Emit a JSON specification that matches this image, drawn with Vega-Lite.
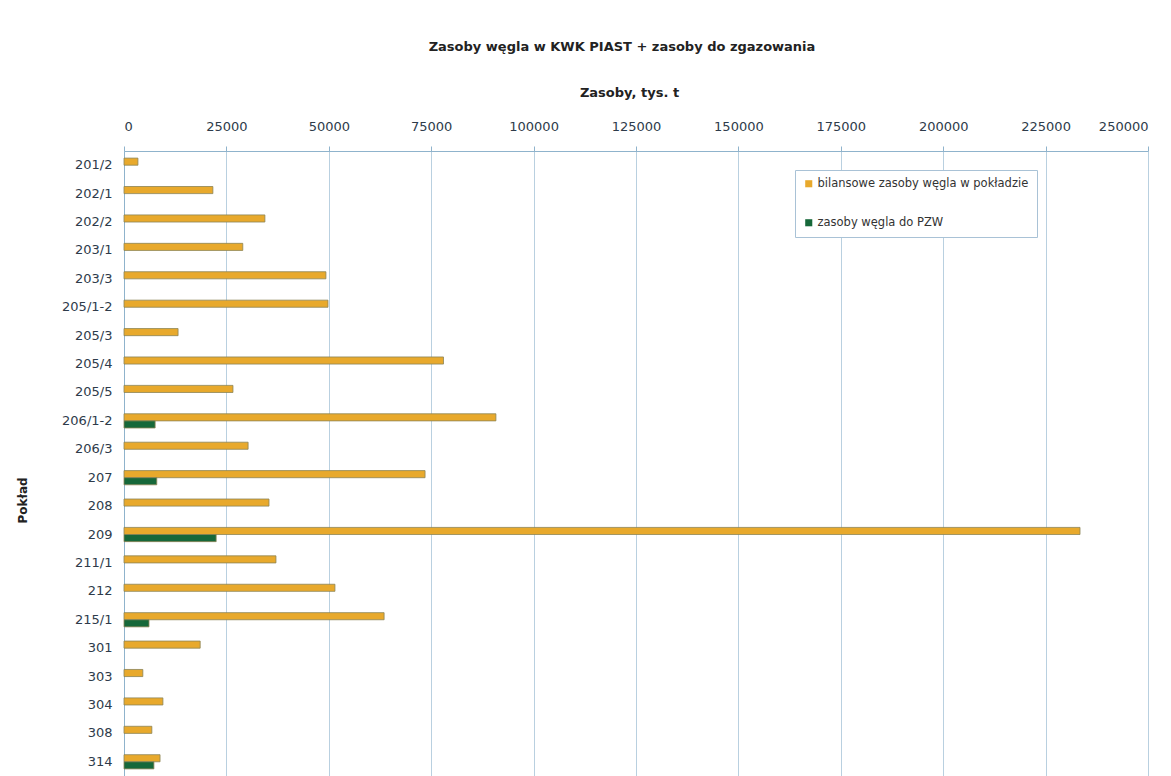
{
  "$schema": "https://vega.github.io/schema/vega-lite/v6.json",
  "autosize": {"type": "none"},
  "padding": {"left": 124, "top": 151, "right": 23, "bottom": 0},
  "width": 1024,
  "height": 625,
  "background": "white",
  "title": {
    "text": "Zasoby węgla w KWK PIAST + zasoby do zgazowania",
    "font": "DejaVu Sans",
    "fontSize": 13,
    "fontWeight": "bold",
    "color": "#222222",
    "anchor": "middle",
    "dx": -14,
    "offset": 32
  },
  "data": {
    "values": [
      {"poklad": "201/2", "seria": "bilansowe zasoby węgla w pokładzie", "zasoby": 3400},
      {"poklad": "202/1", "seria": "bilansowe zasoby węgla w pokładzie", "zasoby": 21700},
      {"poklad": "202/2", "seria": "bilansowe zasoby węgla w pokładzie", "zasoby": 34400},
      {"poklad": "203/1", "seria": "bilansowe zasoby węgla w pokładzie", "zasoby": 29000},
      {"poklad": "203/3", "seria": "bilansowe zasoby węgla w pokładzie", "zasoby": 49300},
      {"poklad": "205/1-2", "seria": "bilansowe zasoby węgla w pokładzie", "zasoby": 49800},
      {"poklad": "205/3", "seria": "bilansowe zasoby węgla w pokładzie", "zasoby": 13200},
      {"poklad": "205/4", "seria": "bilansowe zasoby węgla w pokładzie", "zasoby": 78000},
      {"poklad": "205/5", "seria": "bilansowe zasoby węgla w pokładzie", "zasoby": 26600},
      {"poklad": "206/1-2", "seria": "bilansowe zasoby węgla w pokładzie", "zasoby": 90800},
      {"poklad": "206/1-2", "seria": "zasoby węgla do PZW", "zasoby": 7600},
      {"poklad": "206/3", "seria": "bilansowe zasoby węgla w pokładzie", "zasoby": 30300},
      {"poklad": "207", "seria": "bilansowe zasoby węgla w pokładzie", "zasoby": 73500},
      {"poklad": "207", "seria": "zasoby węgla do PZW", "zasoby": 8000},
      {"poklad": "208", "seria": "bilansowe zasoby węgla w pokładzie", "zasoby": 35400},
      {"poklad": "209", "seria": "bilansowe zasoby węgla w pokładzie", "zasoby": 233400},
      {"poklad": "209", "seria": "zasoby węgla do PZW", "zasoby": 22500},
      {"poklad": "211/1", "seria": "bilansowe zasoby węgla w pokładzie", "zasoby": 37100},
      {"poklad": "212", "seria": "bilansowe zasoby węgla w pokładzie", "zasoby": 51500},
      {"poklad": "215/1", "seria": "bilansowe zasoby węgla w pokładzie", "zasoby": 63500},
      {"poklad": "215/1", "seria": "zasoby węgla do PZW", "zasoby": 6100},
      {"poklad": "301", "seria": "bilansowe zasoby węgla w pokładzie", "zasoby": 18600},
      {"poklad": "303", "seria": "bilansowe zasoby węgla w pokładzie", "zasoby": 4600},
      {"poklad": "304", "seria": "bilansowe zasoby węgla w pokładzie", "zasoby": 9500},
      {"poklad": "308", "seria": "bilansowe zasoby węgla w pokładzie", "zasoby": 6800},
      {"poklad": "314", "seria": "bilansowe zasoby węgla w pokładzie", "zasoby": 8800},
      {"poklad": "314", "seria": "zasoby węgla do PZW", "zasoby": 7300}
    ]
  },
  "mark": {"type": "bar", "stroke": "#8c8456", "strokeWidth": 0.8},
  "encoding": {
    "y": {
      "field": "poklad",
      "type": "nominal",
      "sort": null,
      "title": "Pokład",
      "scale": {"paddingInner": 0.5, "paddingOuter": 0.25},
      "axis": {
        "ticks": false,
        "domainColor": "#8fb3cc",
        "labelFont": "DejaVu Sans",
        "labelFontSize": 13,
        "labelColor": "#2e3b4a",
        "labelPadding": 12,
        "titleFont": "DejaVu Sans",
        "titleFontSize": 12,
        "titleFontWeight": "bold",
        "titleColor": "#222222",
        "titleX": -102,
        "titleY": 349,
        "titleAngle": -90,
        "titleAlign": "center",
        "titleBaseline": "middle"
      }
    },
    "yOffset": {
      "field": "seria",
      "type": "nominal",
      "sort": ["bilansowe zasoby węgla w pokładzie", "zasoby węgla do PZW"],
      "scale": {"paddingInner": 0, "paddingOuter": 0}
    },
    "x": {
      "field": "zasoby",
      "type": "quantitative",
      "title": "Zasoby, tys. t",
      "scale": {"domain": [0, 250000], "nice": false},
      "axis": {
        "orient": "top",
        "values": [0, 25000, 50000, 75000, 100000, 125000, 150000, 175000, 200000, 225000, 250000],
        "format": "d",
        "grid": true,
        "gridColor": "#b9d0e0",
        "gridWidth": 1,
        "domainColor": "#8fb3cc",
        "tickColor": "#8fb3cc",
        "tickSize": 5,
        "labelFont": "DejaVu Sans",
        "labelFontSize": 13,
        "labelColor": "#2e3b4a",
        "labelPadding": 13,
        "titleFont": "DejaVu Sans",
        "titleFontSize": 13,
        "titleFontWeight": "bold",
        "titleColor": "#222222",
        "titlePadding": 21,
        "titleX": 505
      }
    },
    "color": {
      "field": "seria",
      "type": "nominal",
      "scale": {
        "domain": ["bilansowe zasoby węgla w pokładzie", "zasoby węgla do PZW"],
        "range": ["#e8a92c", "#16683a"]
      },
      "legend": {
        "title": null,
        "orient": "none",
        "legendX": 671,
        "legendY": 19,
        "direction": "vertical",
        "symbolType": "square",
        "symbolSize": 50,
        "symbolStrokeWidth": 0,
        "labelFont": "DejaVu Sans",
        "labelFontSize": 11.5,
        "labelColor": "#333333",
        "labelOffset": 3,
        "labelLimit": 0,
        "rowPadding": 26,
        "padding": 8,
        "strokeColor": "#a9c2d6",
        "fillColor": "white"
      }
    }
  },
  "config": {
    "view": {"stroke": null}
  }
}
